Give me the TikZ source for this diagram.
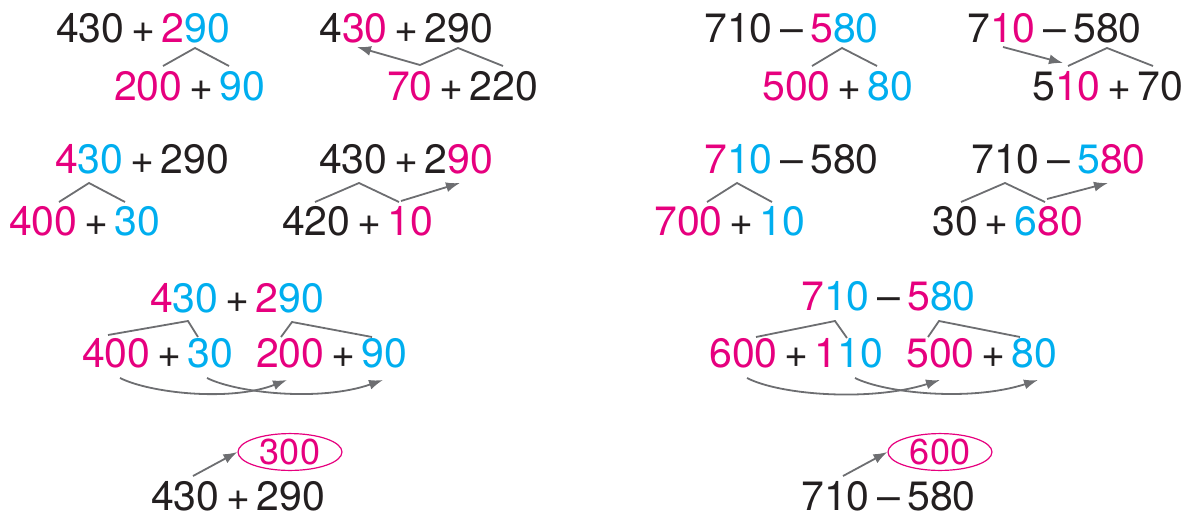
\documentclass[tikz,border=0pt]{standalone}
\usepackage{fontspec}
\setmainfont{TeX Gyre Heros}
\usetikzlibrary{arrows.meta,shapes.geometric}
\definecolor{mag}{HTML}{E6007E}
\definecolor{cya}{HTML}{00AEEF}
\definecolor{ink}{HTML}{231F20}
\definecolor{lin}{HTML}{6D6E71}
\newcommand\M[1]{\textcolor{mag}{#1}}
\newcommand\C[1]{\textcolor{cya}{#1}}
\newcommand\PL{\kern6.5pt\textcolor{ink}{+}\kern6.5pt}
\newcommand\MI{\kern8pt\textcolor{ink}{–}\kern7pt}
\tikzset{
  expr/.style={anchor=base west, inner sep=0pt, text=ink, font=\fontsize{41}{41}\selectfont},
  tent/.style={draw=lin, line width=1.8pt, line join=miter},
  arr/.style={draw=lin, line width=1.8pt, -{Latex[length=14pt,width=10pt]}},
  oval/.style={draw=mag, line width=1.2pt, ellipse, minimum width=104pt, minimum height=36pt, inner sep=0pt, text=mag, font=\fontsize{36}{36}\selectfont},
}
\begin{document}
\begin{tikzpicture}[x=1pt,y=-1pt]
\useasboundingbox (0,0) rectangle (1189,517);
% ---- row 1 ----
\node[expr] (a1) at (56,42) {430\PL\M{2}\C{90}};
\node[expr] (a2) at (114,100) {\M{200}\PL\C{90}};
\coordinate (a1l) at (163,66); \coordinate (a1t) at (195,48); \coordinate (a1r) at (229,66);
\draw[tent] (a1l) -- (a1t) -- (a1r);

\node[expr] (b1) at (319,42) {4\M{30}\PL 290};
\node[expr] (b2) at (387,100) {\M{70}\PL 220};
\coordinate (b1s) at (420,65); \coordinate (b1e) at (357,47);
\coordinate (b1t) at (458,48); \coordinate (b1r) at (503,66);
\draw[arr] (b1s) -- (b1e);
\draw[tent] (b1s) -- (b1t) -- (b1r);

\node[expr] (c1) at (704,42) {710\MI\M{5}\C{80}};
\node[expr] (c2) at (762,100) {\M{500}\PL\C{80}};
\coordinate (c1l) at (812,66); \coordinate (c1t) at (842,48); \coordinate (c1r) at (877,66);
\draw[tent] (c1l) -- (c1t) -- (c1r);

\node[expr] (d1) at (967,42) {7\M{10}\MI 580};
\node[expr] (d2) at (1032,100) {5\M{10}\PL 70};
\coordinate (d1s) at (1003,47); \coordinate (d1e) at (1063,63);
\coordinate (d1l) at (1068,66); \coordinate (d1t) at (1107,48); \coordinate (d1r) at (1153,66);
\draw[arr] (d1s) -- (d1e);
\draw[tent] (d1l) -- (d1t) -- (d1r);
% ---- row 2 ----
\node[expr] (e1) at (55,173) {\M{4}\C{30}\PL 290};
\node[expr] (e2) at (9,235) {\M{400}\PL\C{30}};
\coordinate (e1l) at (59,202); \coordinate (e1t) at (89,183); \coordinate (e1r) at (125,202);
\draw[tent] (e1l) -- (e1t) -- (e1r);

\node[expr] (f1) at (319,173) {430\PL 2\M{90}};
\node[expr] (f2) at (282,235) {420\PL\M{10}};
\coordinate (f1l) at (315,202); \coordinate (f1t) at (359,183); \coordinate (f1r) at (399,202);
\coordinate (f1s) at (401,201); \coordinate (f1e) at (460,183);
\draw[tent] (f1l) -- (f1t) -- (f1r);
\draw[arr] (f1s) -- (f1e);

\node[expr] (g1) at (704,173) {\M{7}\C{10}\MI 580};
\node[expr] (g2) at (654,235) {\M{700}\PL\C{10}};
\coordinate (g1l) at (707,202); \coordinate (g1t) at (737,183); \coordinate (g1r) at (772,202);
\draw[tent] (g1l) -- (g1t) -- (g1r);

\node[expr] (h1) at (971,173) {710\MI\C{5}\M{80}};
\node[expr] (h2) at (932,235) {30\PL\C{6}\M{80}};
\coordinate (h1l) at (961,202); \coordinate (h1t) at (1005,183); \coordinate (h1r) at (1045,202);
\coordinate (h1s) at (1047,199); \coordinate (h1e) at (1108,183);
\draw[tent] (h1l) -- (h1t) -- (h1r);
\draw[arr] (h1s) -- (h1e);
% ---- row 3 ----
\node[expr] (i1) at (150,312) {\M{4}\C{30}\PL\M{2}\C{90}};
\node[expr] (i2) at (82,367) {\M{400}\PL\C{30}};
\node[expr] (i3) at (256,367) {\M{200}\PL\C{90}};
\coordinate (i1a) at (108,335); \coordinate (i1b) at (188,321); \coordinate (i1c) at (198,337);
\coordinate (i1d) at (281,337); \coordinate (i1e) at (292,322); \coordinate (i1f) at (372,337);
\draw[tent] (i1a) -- (i1b) -- (i1c);
\draw[tent] (i1d) -- (i1e) -- (i1f);
\coordinate (i2s) at (120,378); \coordinate (i2e) at (287,380);
\coordinate (i3s) at (207,378); \coordinate (i3e) at (383,380);
\draw[arr] (i2s) .. controls (150,393) and (230,402) .. (i2e);
\draw[arr] (i3s) .. controls (237,393) and (320,402) .. (i3e);

\node[expr] (j1) at (801,310) {\M{7}\C{10}\MI\M{5}\C{80}};
\node[expr] (j2) at (709,367) {\M{600}\PL\M{1}\C{10}};
\node[expr] (j3) at (906,367) {\M{500}\PL\C{80}};
\coordinate (j1a) at (756,337); \coordinate (j1b) at (835,321); \coordinate (j1c) at (847,338);
\coordinate (j1d) at (928,337); \coordinate (j1e) at (939,321); \coordinate (j1f) at (1020,337);
\draw[tent] (j1a) -- (j1b) -- (j1c);
\draw[tent] (j1d) -- (j1e) -- (j1f);
\coordinate (j2s) at (747,378); \coordinate (j2e) at (940,380);
\coordinate (j3s) at (855,378); \coordinate (j3e) at (1038,380);
\draw[arr] (j2s) .. controls (780,395) and (870,402) .. (j2e);
\draw[arr] (j3s) .. controls (885,393) and (970,402) .. (j3e);
% ---- row 4 ----
\node[expr] (k1) at (151,510) {430\PL 290};
\node[oval] (k2) at (290,452) {300};
\coordinate (k1s) at (193,476);
\draw[arr] (k1s) -- (k2.west);

\node[expr] (l1) at (801,510) {710\MI 580};
\node[oval] (l2) at (940,452) {600};
\coordinate (l1s) at (843,476);
\draw[arr] (l1s) -- (l2.west);
\end{tikzpicture}
\end{document}
